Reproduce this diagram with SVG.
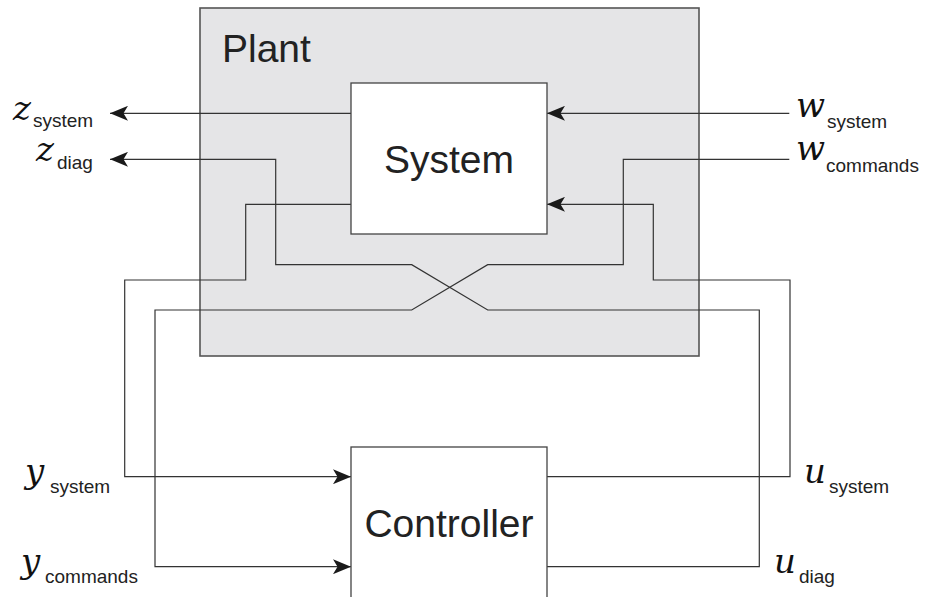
<svg xmlns="http://www.w3.org/2000/svg" width="926" height="597" viewBox="0 0 926 597">
<style>
.box{fill:#ffffff;stroke:#444;stroke-width:1.3}
.plant{fill:#e5e5e7;stroke:#555;stroke-width:1.6}
.big{font-family:"Liberation Sans",Arial,sans-serif;font-size:39px;fill:#222}
.m{font-family:"DejaVu Serif",serif;font-style:italic;font-size:34px;fill:#111}
.s{font-family:"Liberation Sans",Arial,sans-serif;font-size:19px;fill:#222}
.w{fill:none;stroke:#333;stroke-width:1.2}
.a{marker-end:url(#arr)}
</style>
<defs>
<marker id="arr" markerUnits="userSpaceOnUse" viewBox="0 0 18 15" refX="18" refY="7.5" markerWidth="18" markerHeight="15" orient="auto">
<path d="M0,0 L18,7.5 L0,15 L4.5,7.5 Z" fill="#1a1a1a"/>
</marker>
</defs>
<g id="plant">
<rect class="plant" x="200" y="8" width="499" height="348"/>
<text class="big" x="222" y="62">Plant</text>
</g>
<g id="connectors">
<path class="w a" d="M351,113.3 L110,113.3"/>
<path class="w a" d="M547,566.7 L759.3,566.7 L759.3,310 L487.7,310 L411.7,264.7 L275.7,264.7 L275.7,159.3 L110,159.3"/>
<path class="w a" d="M789.3,113.3 L547,113.3"/>
<path class="w a" d="M789.3,159.3 L623.3,159.3 L623.3,264.7 L487.7,264.7 L411.7,310 L155,310 L155,566.7 L351,566.7"/>
<path class="w a" d="M351,204.3 L245.7,204.3 L245.7,280 L124.7,280 L124.7,476.7 L351,476.7"/>
<path class="w a" d="M547,476.7 L790,476.7 L790,280 L653.3,280 L653.3,204.3 L547,204.3"/>
</g>
<g id="system">
<rect class="box" x="351" y="83" width="196" height="151"/>
<text class="big" x="449" y="173" text-anchor="middle">System</text>
</g>
<g id="controller">
<rect class="box" x="351" y="447" width="196" height="160"/>
<text class="big" x="449" y="537" text-anchor="middle">Controller</text>
</g>
<g id="labels">
<text class="m" x="13" y="120">z</text><text class="s" x="33" y="127">system</text>
<text class="m" x="36" y="161">z</text><text class="s" x="57" y="169">diag</text>
<text class="m" x="796" y="117">w</text><text class="s" x="827" y="128">system</text>
<text class="m" x="796" y="160">w</text><text class="s" x="826" y="172">commands</text>
<text class="m" x="25" y="483">y</text><text class="s" x="50" y="493">system</text>
<text class="m" x="21" y="573">y</text><text class="s" x="45" y="583">commands</text>
<text class="m" x="804" y="483">u</text><text class="s" x="829" y="493">system</text>
<text class="m" x="774" y="573">u</text><text class="s" x="799" y="583">diag</text>
</g>
</svg>
